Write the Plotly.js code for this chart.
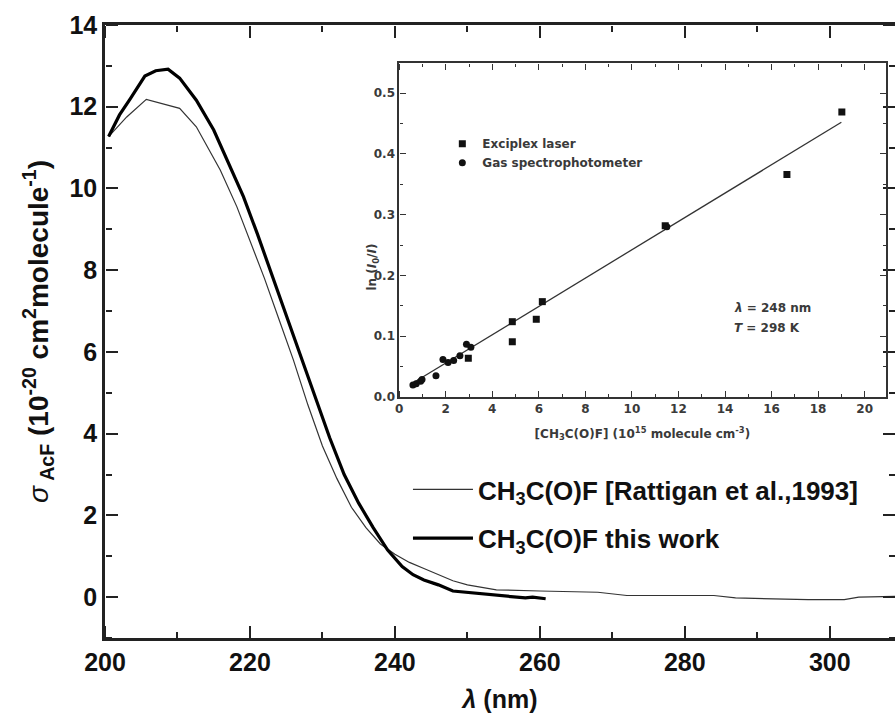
<!DOCTYPE html>
<html>
<head>
<meta charset="utf-8">
<script src="https://cdn.plot.ly/plotly-3.0.1.min.js"></script>
<style>body{margin:0;padding:0;background:#fff}#chart{width:895px;height:720px}</style>
</head>
<body>
<div id="chart"></div>
<script>
// Main chart: absorption cross sections of CH3C(O)F
const thisWorkX = [200.5, 202, 203.5, 205.5, 207, 208.7, 210.3, 212.6, 215, 217.2, 219.1, 221, 223, 225, 227, 229, 231, 233, 235, 237, 239, 241, 242.5, 244, 246, 248, 250, 252, 254, 256, 258, 259, 260.8];
const thisWorkY = [11.27, 11.8, 12.2, 12.75, 12.88, 12.92, 12.7, 12.16, 11.43, 10.53, 9.8, 8.9, 7.9, 6.9, 5.9, 4.9, 3.9, 3.0, 2.3, 1.7, 1.15, 0.75, 0.55, 0.42, 0.3, 0.15, 0.12, 0.08, 0.05, 0.02, -0.02, 0.0, -0.04];
const rattiganX = [200.5, 203, 205.7, 210.3, 212.6, 215.9, 218.2, 220, 222, 224, 226, 228, 230, 232, 234, 236, 238, 240, 242, 244, 246, 248, 250, 254, 260, 268, 272, 284, 287, 297, 302, 304, 309];
const rattiganY = [11.27, 11.75, 12.18, 11.96, 11.51, 10.45, 9.55, 8.7, 7.8, 6.8, 5.8, 4.7, 3.7, 2.9, 2.2, 1.7, 1.3, 1.05, 0.85, 0.7, 0.55, 0.4, 0.3, 0.18, 0.15, 0.12, 0.04, 0.04, -0.02, -0.06, -0.06, 0.0, 0.02];

// Inset: Beer-Lambert plot at 248 nm
const laserX = [19.02, 16.66, 11.43, 6.15, 5.89, 4.86, 4.86, 2.97];
const laserY = [0.469, 0.366, 0.282, 0.157, 0.128, 0.124, 0.091, 0.064];
const gasX = [0.59, 0.73, 0.92, 0.98, 1.58, 1.88, 2.10, 2.34, 2.61, 2.89, 3.08, 11.5];
const gasY = [0.020, 0.022, 0.026, 0.029, 0.035, 0.062, 0.057, 0.060, 0.068, 0.087, 0.082, 0.280];
const fitX = [0.5, 19.0];
const fitY = [0.021, 0.452];

// tick marks (major with labels, minor without)
const mainXTicks = [200, 220, 240, 260, 280, 300];
const mainXMinor = [210, 230, 250, 270, 290];
const mainYTicks = [0, 2, 4, 6, 8, 10, 12, 14];
const mainYMinor = [-1, 1, 3, 5, 7, 9, 11, 13];
const insetXTicks = [0, 2, 4, 6, 8, 10, 12, 14, 16, 18, 20];
const insetXMinor = [1, 3, 5, 7, 9, 11, 13, 15, 17, 19];
const insetYTicks = [0.0, 0.1, 0.2, 0.3, 0.4, 0.5];
const insetYMinor = [0.05, 0.15, 0.25, 0.35, 0.45];

const legendNames = ['CH<sub>3</sub>C(O)F [Rattigan et al.,1993]', 'CH<sub>3</sub>C(O)F this work'];
const insetNames = ['Exciplex laser', 'Gas spectrophotometer'];
const insetYTitle = 'ln (<i>I</i><sub>0</sub>/<i>I</i>)';
const insetNotes = ['<i>λ</i> = 248 nm', '<i>T</i> = 298 K'];

const mainXRange = [200, 309];
const mainYRange = [-1, 14];
const insetXRange = [0, 20.9];
const insetYRange = [0, 0.55];
const insetXDomain = [0.3724, 0.9881];
const insetYDomain = [0.393, 0.9385];

const MAIN_FONT = 'Liberation Sans, Arial, sans-serif';
const INSET_FONT = 'DejaVu Sans, sans-serif';
const insetColor = '#3a3a3a';

const traces = [
  {x: rattiganX, y: rattiganY, type: 'scatter', mode: 'lines', name: legendNames[0],
   line: {color: '#333', width: 1.2}, legendgroup: 'a', legend: 'legend'},
  {x: thisWorkX, y: thisWorkY, type: 'scatter', mode: 'lines', name: legendNames[1],
   line: {color: '#000', width: 3.2}, legendgroup: 'b', legend: 'legend'},
  {x: fitX, y: fitY, type: 'scatter', mode: 'lines', xaxis: 'x2', yaxis: 'y2', showlegend: false,
   line: {color: '#333', width: 1.3}},
  {x: laserX, y: laserY, type: 'scatter', mode: 'markers', xaxis: 'x2', yaxis: 'y2', name: insetNames[0],
   marker: {symbol: 'square', size: 7, color: '#111'}, legend: 'legend2'},
  {x: gasX, y: gasY, type: 'scatter', mode: 'markers', xaxis: 'x2', yaxis: 'y2', name: insetNames[1],
   marker: {symbol: 'circle', size: 7, color: '#111'}, legend: 'legend2'}
];

const mainTickFont = {family: MAIN_FONT, size: 25, color: '#111', weight: 'bold'};
const insetTickFont = {family: INSET_FONT, size: 12, color: insetColor, weight: 'bold'};

function frameAxis(ticks, range, color, lineW, font) {
  return {
    range: range, showline: true, mirror: true, linecolor: color, linewidth: lineW,
    showgrid: false, zeroline: false, ticks: '', tickmode: 'array', tickvals: ticks, tickfont: font
  };
}

const layout = {
  width: 895, height: 720,
  margin: {l: 105, r: 0, t: 25, b: 82},
  paper_bgcolor: '#fff', plot_bgcolor: 'rgba(0,0,0,0)',
  font: {family: MAIN_FONT, color: '#111'},
  xaxis: Object.assign(frameAxis(mainXTicks, mainXRange, '#222', 2.5, mainTickFont), {
    title: {text: '<i>λ</i> (nm)', font: {family: MAIN_FONT, size: 25, color: '#111', weight: 'bold'}, standoff: 16}
  }),
  yaxis: Object.assign(frameAxis(mainYTicks, mainYRange, '#222', 2.5, mainTickFont), {
    title: {text: '<span style="font-weight:normal"><i>σ</i></span><sub> AcF</sub> (10<sup>-20</sup> cm<sup>2</sup>molecule<sup>-1</sup>)',
            font: {family: MAIN_FONT, size: 28, color: '#111', weight: 'bold'}, standoff: 13}
  }),
  xaxis2: Object.assign(frameAxis(insetXTicks, insetXRange, '#333', 1.5, insetTickFont), {
    domain: insetXDomain, anchor: 'y2',
    title: {text: '[CH<sub>3</sub>C(O)F] (10<sup>15</sup> molecule cm<sup>-3</sup>)', font: {family: INSET_FONT, size: 12, color: insetColor, weight: 'bold'}, standoff: 14}
  }),
  yaxis2: Object.assign(frameAxis(insetYTicks, insetYRange, '#333', 1.5, insetTickFont), {
    domain: insetYDomain, anchor: 'x2', tickformat: '.1f'
  }),
  legend: {
    x: 0.3835, y: 0.2806, xanchor: 'left', yanchor: 'top', bgcolor: 'rgba(0,0,0,0)',
    font: {family: MAIN_FONT, size: 26, color: '#111', weight: 'bold'}, tracegroupgap: 12, itemwidth: 60
  },
  legend2: {
    x: 0.427, y: 0.83, xanchor: 'left', yanchor: 'top', bgcolor: 'rgba(0,0,0,0)',
    font: {family: INSET_FONT, size: 12, color: insetColor, weight: 'bold'}, itemwidth: 30
  },
  annotations: [
    {xref: 'x2 domain', yref: 'y2 domain', x: -0.054, y: 0.39, xanchor: 'center', yanchor: 'middle', showarrow: false,
     textangle: -90, text: insetYTitle, font: {family: INSET_FONT, size: 12, color: insetColor, weight: 'bold'}},
    {xref: 'x2', yref: 'y2', x: 14.3, y: 0.147, xanchor: 'left', yanchor: 'middle', showarrow: false,
     text: insetNotes[0], font: {family: INSET_FONT, size: 12, color: insetColor, weight: 'bold'}},
    {xref: 'x2', yref: 'y2', x: 14.3, y: 0.113, xanchor: 'left', yanchor: 'middle', showarrow: false,
     text: insetNotes[1], font: {family: INSET_FONT, size: 12, color: insetColor, weight: 'bold'}}
  ],
  showlegend: true
};

// Inward-pointing tick marks: free overlay axes placed on the opposite side, with outward ticks.
let nextX = 3, nextY = 3;
function addTickAxis(letter, baseAxis, baseOther, side, pos, vals, range, len, width, color, dataX, dataY) {
  const n = letter === 'x' ? nextX++ : nextY++;
  const id = letter + n;
  layout[(letter === 'x' ? 'xaxis' : 'yaxis') + n] = {
    overlaying: baseAxis, anchor: 'free', position: pos, side: side, range: range,
    tickmode: 'array', tickvals: vals, ticks: 'outside', ticklen: len, tickwidth: width, tickcolor: color,
    showticklabels: false, showline: false, showgrid: false, zeroline: false
  };
  const tr = {x: dataX, y: dataY, type: 'scatter', mode: 'lines', opacity: 0, showlegend: false,
              hoverinfo: 'skip', line: {width: 0.1, color: 'rgba(0,0,0,0)'}};
  if (letter === 'x') { tr.xaxis = id; tr.yaxis = baseOther; } else { tr.xaxis = baseOther; tr.yaxis = id; }
  traces.push(tr);
}
// main plot frame (bottom/top x ticks, left/right y ticks)
[[mainXTicks, 12], [mainXMinor, 6]].forEach(([v, l]) => {
  addTickAxis('x', 'x', 'y', 'top', 0, v, mainXRange, l, 2.2, '#222', rattiganX, rattiganY);
  addTickAxis('x', 'x', 'y', 'bottom', 1, v, mainXRange, l, 2.2, '#222', rattiganX, rattiganY);
});
[[mainYTicks, 12], [mainYMinor, 6]].forEach(([v, l]) => {
  addTickAxis('y', 'y', 'x', 'right', 0, v, mainYRange, l, 2.2, '#222', rattiganX, rattiganY);
  addTickAxis('y', 'y', 'x', 'left', 1, v, mainYRange, l, 2.2, '#222', rattiganX, rattiganY);
});
// inset frame
[[insetXTicks, 6], [insetXMinor, 3]].forEach(([v, l]) => {
  addTickAxis('x', 'x2', 'y2', 'top', insetYDomain[0], v, insetXRange, l, 1.3, '#333', fitX, fitY);
  addTickAxis('x', 'x2', 'y2', 'bottom', insetYDomain[1], v, insetXRange, l, 1.3, '#333', fitX, fitY);
});
[[insetYTicks, 6], [insetYMinor, 3]].forEach(([v, l]) => {
  addTickAxis('y', 'y2', 'x2', 'right', insetXDomain[0], v, insetYRange, l, 1.3, '#333', fitX, fitY);
  addTickAxis('y', 'y2', 'x2', 'left', insetXDomain[1], v, insetYRange, l, 1.3, '#333', fitX, fitY);
});

Plotly.newPlot('chart', traces, layout, {displayModeBar: false});
</script>
</body>
</html>
